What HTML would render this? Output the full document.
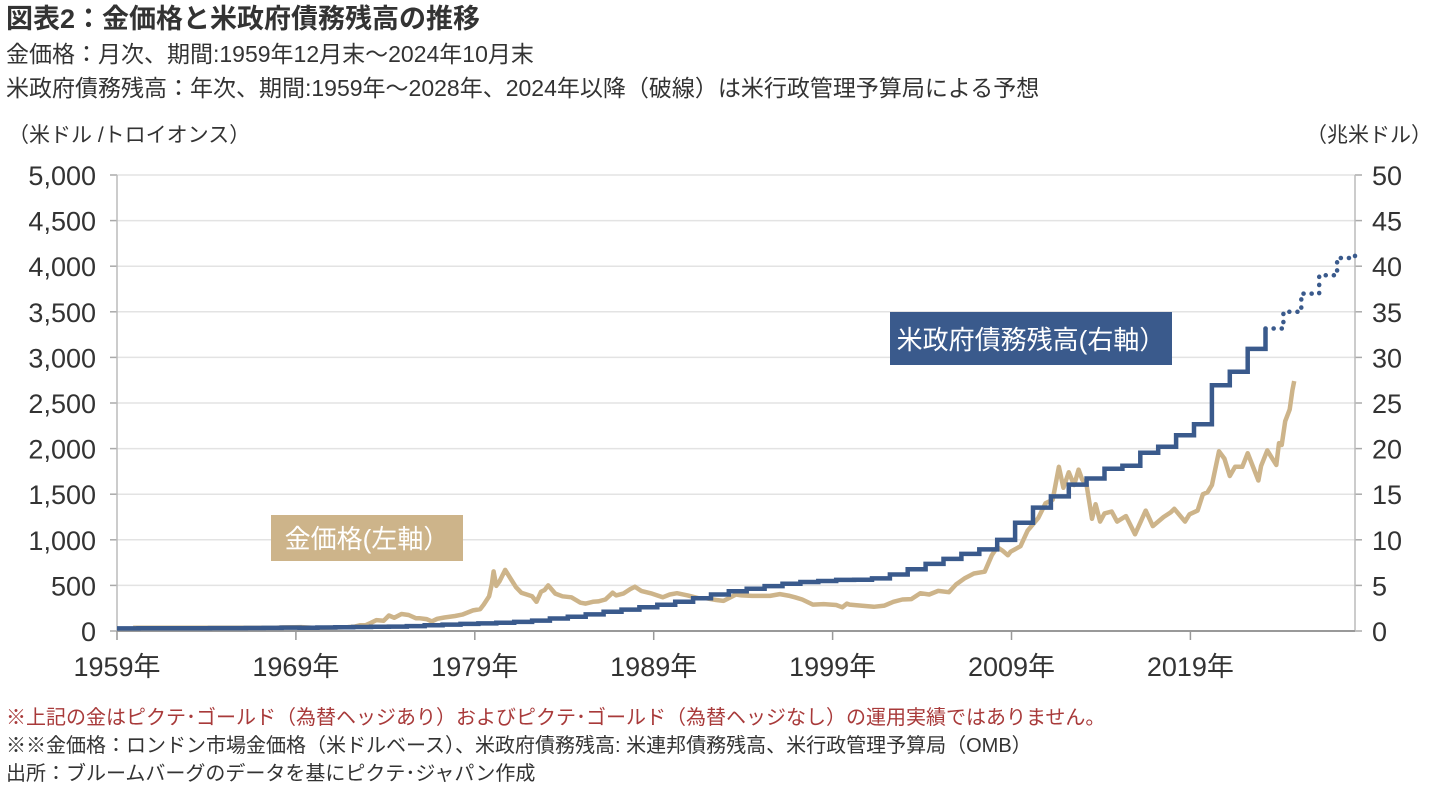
<!DOCTYPE html>
<html><head><meta charset="utf-8">
<style>
body{margin:0;background:#fff;width:1439px;height:798px;overflow:hidden;font-family:"Liberation Sans","Noto Sans CJK JP",sans-serif;}
svg text{font-family:"Liberation Sans","Noto Sans CJK JP",sans-serif;}
</style></head><body>
<svg id="chart" width="1439" height="798" xmlns="http://www.w3.org/2000/svg">
<text x="6" y="28" font-size="27" font-weight="bold" fill="#333">図表2：金価格と米政府債務残高の推移</text>
<text x="6" y="62" font-size="23" fill="#333">金価格：月次、期間:1959年12月末～2024年10月末</text>
<text x="6" y="96" font-size="23" fill="#333">米政府債務残高：年次、期間:1959年～2028年、2024年以降（破線）は米行政管理予算局による予想</text>
<text x="8" y="142" font-size="21" fill="#333">（米ドル /トロイオンス）</text>
<text x="1432" y="142" font-size="21" fill="#333" text-anchor="end">（兆米ドル）</text>
<g id="grid"></g>
<g id="axes"></g>
<g id="series"></g>
<rect x="890" y="312" width="282" height="53" fill="#3a5a8c"/>
<text x="1031" y="349" font-size="26" fill="#fff" text-anchor="middle">米政府債務残高(右軸）</text>
<rect x="271" y="515" width="192" height="46" fill="#cdb48a"/>
<text x="367" y="548" font-size="26" fill="#fff" text-anchor="middle">金価格(左軸）</text>
<text x="6" y="724" font-size="20" fill="#a83a3a">※上記の金はピクテ･ゴールド（為替ヘッジあり）およびピクテ･ゴールド（為替ヘッジなし）の運用実績ではありません。</text>
<text x="6" y="752" font-size="20" fill="#333">※※金価格：ロンドン市場金価格（米ドルベース）、米政府債務残高: 米連邦債務残高、米行政管理予算局（OMB）</text>
<text x="6" y="780" font-size="20" fill="#333">出所：ブルームバーグのデータを基にピクテ･ジャパン作成</text>
</svg>
<script>
const leftTicks=[0,500,1000,1500,2000,2500,3000,3500,4000,4500,5000];
const leftTickLabels=["0","500","1,000","1,500","2,000","2,500","3,000","3,500","4,000","4,500","5,000"];
const rightTickLabels=["0","5","10","15","20","25","30","35","40","45","50"];
const xTickYears=[1959,1969,1979,1989,1999,2009,2019];
const debtYears=[1959,1960,1961,1962,1963,1964,1965,1966,1967,1968,1969,1970,1971,1972,1973,1974,1975,1976,1977,1978,1979,1980,1981,1982,1983,1984,1985,1986,1987,1988,1989,1990,1991,1992,1993,1994,1995,1996,1997,1998,1999,2000,2001,2002,2003,2004,2005,2006,2007,2008,2009,2010,2011,2012,2013,2014,2015,2016,2017,2018,2019,2020,2021,2022,2023];
const debtValues=[0.287,0.291,0.293,0.303,0.311,0.317,0.322,0.328,0.341,0.370,0.366,0.381,0.408,0.436,0.466,0.484,0.542,0.629,0.706,0.777,0.829,0.909,0.995,1.137,1.372,1.565,1.817,2.121,2.346,2.601,2.868,3.206,3.598,4.002,4.351,4.643,4.921,5.181,5.369,5.478,5.606,5.629,5.770,6.198,6.760,7.355,7.905,8.451,8.951,9.986,11.876,13.529,14.764,16.051,16.719,17.794,18.120,19.539,20.206,21.462,22.669,26.945,28.428,30.929,33.167];
const forecastYears=[2023,2024,2025,2026,2027,2028];
const forecastValues=[33.167,35.0,37.0,39.0,40.9,41.8];
const goldDates=[1959.9,1967.9,1968.3,1968.9,1969.3,1969.9,1970.5,1970.9,1971.5,1971.9,1972.3,1972.6,1972.9,1973.2,1973.5,1973.9,1974.2,1974.5,1974.9,1975.3,1975.7,1975.9,1976.3,1976.6,1976.9,1977.3,1977.9,1978.3,1978.9,1979.3,1979.5,1979.8,1979.95,1980.05,1980.2,1980.4,1980.7,1980.95,1981.3,1981.6,1981.9,1982.2,1982.45,1982.7,1982.9,1983.1,1983.5,1983.9,1984.4,1984.9,1985.2,1985.6,1985.9,1986.3,1986.7,1986.9,1987.3,1987.7,1987.95,1988.3,1988.9,1989.5,1989.9,1990.3,1990.9,1991.5,1991.9,1992.5,1992.9,1993.3,1993.6,1993.9,1994.5,1995.5,1996.05,1996.6,1996.9,1997.3,1997.9,1998.5,1999.2,1999.55,1999.8,1999.95,2000.5,2001.3,2001.9,2002.4,2002.9,2003.4,2003.9,2004.4,2004.9,2005.5,2005.9,2006.4,2006.9,2007.5,2007.9,2008.2,2008.5,2008.8,2008.95,2009.5,2009.9,2010.5,2010.9,2011.3,2011.65,2011.9,2012.2,2012.5,2012.75,2012.95,2013.2,2013.5,2013.7,2013.95,2014.2,2014.6,2014.9,2015.4,2015.9,2016.5,2016.9,2017.5,2017.9,2018.1,2018.7,2018.95,2019.4,2019.7,2019.95,2020.2,2020.6,2020.9,2021.2,2021.5,2021.9,2022.2,2022.8,2022.95,2023.3,2023.8,2023.95,2024.1,2024.3,2024.55,2024.7,2024.8];
const goldValues=[35,35,40,42,43,35,36,37,40,43,48,64,64,90,120,112,170,145,186,175,140,140,130,105,134,148,165,180,226,240,290,380,512,653,495,550,670,590,480,420,400,380,320,430,450,500,410,380,370,310,300,320,325,345,420,390,410,460,486,440,410,370,400,415,390,360,360,340,330,370,400,390,385,385,405,385,370,345,290,295,285,260,300,290,280,265,278,320,345,350,415,400,440,425,510,580,630,650,830,920,880,830,870,930,1100,1240,1400,1440,1800,1570,1740,1600,1770,1660,1600,1230,1390,1200,1290,1310,1200,1260,1060,1320,1150,1250,1300,1340,1200,1280,1320,1500,1520,1600,1970,1890,1700,1800,1800,1950,1650,1810,1980,1820,2060,2040,2300,2430,2640,2740];

const X0=117,X1=1355,Y0=631,Y1=175;
const xS=y=>X0+(y-1959)/(2028.2-1959)*(X1-X0);
const yL=v=>Y0-v/5000*(Y0-Y1);
const yR=v=>Y0-v/50*(Y0-Y1);
const NS='http://www.w3.org/2000/svg';
function mk(tag,parent,attrs){const e=document.createElementNS(NS,tag);for(const k in attrs)e.setAttribute(k,attrs[k]);parent.appendChild(e);return e;}
const grid=document.getElementById('grid'),axes=document.getElementById('axes'),ser=document.getElementById('series');
leftTicks.forEach((v,i)=>{
 if(i>0){const g=mk('line',grid,{x1:X0,x2:X1,y1:yL(v),y2:yL(v),stroke:'#e3e3e3','stroke-width':1.5});
 }
 const t1=mk('line',axes,{x1:X0-7,x2:X0,y1:yL(v),y2:yL(v),stroke:'#aaa','stroke-width':1.5});
 
 const t2=mk('line',axes,{x1:X1,x2:X1+7,y1:yL(v),y2:yL(v),stroke:'#aaa','stroke-width':1.5});
 
 const lt=mk('text',axes,{x:96,y:yL(v)+10,'font-size':27,fill:'#333','text-anchor':'end'});lt.textContent=leftTickLabels[i];
 
 const rt=mk('text',axes,{x:1372,y:yL(v)+10,'font-size':27,fill:'#333'});rt.textContent=rightTickLabels[i];
 
});
const la=mk('line',axes,{x1:X0,x2:X0,y1:Y1,y2:Y0,stroke:'#bbb','stroke-width':1.5});

const ra=mk('line',axes,{x1:X1,x2:X1,y1:Y1,y2:Y0,stroke:'#bbb','stroke-width':1.5});

const xa=mk('line',axes,{x1:X0,x2:X1,y1:Y0,y2:Y0,stroke:'#999','stroke-width':2});

xTickYears.forEach(y=>{
 const t=mk('line',axes,{x1:xS(y),x2:xS(y),y1:Y0,y2:Y0+9,stroke:'#999','stroke-width':1.5});
 
 const l=mk('text',axes,{x:xS(y),y:676,'font-size':27,fill:'#333','text-anchor':'middle'});l.textContent=y+'年';
 
});
let gd='';goldDates.forEach((d,i)=>{gd+=(i?'L':'M')+xS(d).toFixed(1)+','+yL(goldValues[i]).toFixed(1);});
const gp=mk('path',ser,{d:gd,fill:'none',stroke:'#cdb48a','stroke-width':4.5,'stroke-linejoin':'round'});

const off=0.2;
let dd='M'+X0+','+yR(debtValues[0]).toFixed(1);
debtYears.forEach((y,i)=>{
 const x=Math.max(X0,xS(y+off));
 dd+='L'+x.toFixed(1)+','+yR(i?debtValues[i-1]:debtValues[0]).toFixed(1)+'L'+x.toFixed(1)+','+yR(debtValues[i]).toFixed(1);
});
const dp=mk('path',ser,{d:dd,fill:'none',stroke:'#3a5a8c','stroke-width':4.5,'stroke-linejoin':'miter'});

let fd='M'+xS(forecastYears[0]+off).toFixed(1)+','+yR(forecastValues[0]).toFixed(1);
for(let i=1;i<forecastYears.length;i++){
 const x=xS(forecastYears[i]+off);
 fd+='L'+x.toFixed(1)+','+yR(forecastValues[i-1]).toFixed(1)+'L'+x.toFixed(1)+','+yR(forecastValues[i]).toFixed(1);
}
const fp=mk('path',ser,{d:fd,fill:'none',stroke:'#3a5a8c','stroke-width':4.5,'stroke-dasharray':'0.1 8','stroke-linecap':'round'});

</script>
</body></html>
